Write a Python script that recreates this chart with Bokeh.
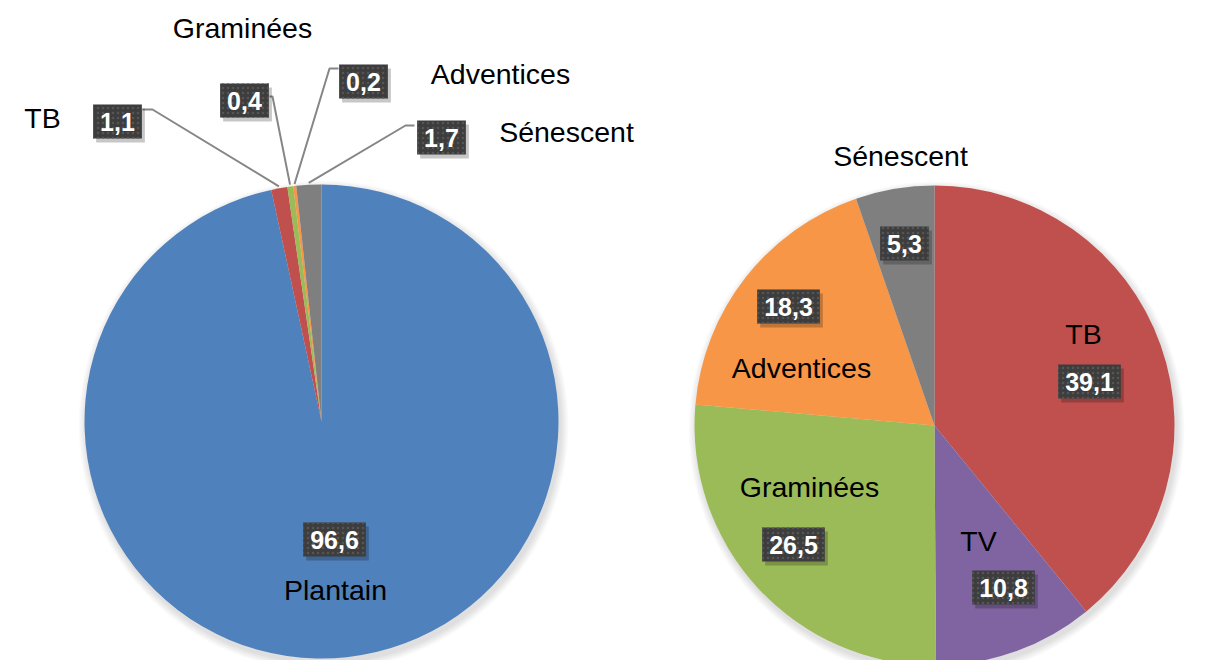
import numpy as np
from bokeh.plotting import figure
from bokeh.models import Range1d
from bokeh.embed import file_html
from bokeh.resources import INLINE
from bokeh.core.properties import value

# ---------------- data ----------------
left_categories = ["Plantain", "TB", "Graminées", "Adventices", "Sénescent"]
left_values = [96.6, 1.1, 0.4, 0.2, 1.7]
right_categories = ["TB", "TV", "Graminées", "Adventices", "Sénescent"]
right_values = [39.1, 10.8, 26.5, 18.3, 5.3]

# ---------------- styles / layout ----------------
left_colors = ["#4F81BD", "#C0504D", "#9BBB59", "#F79646", "#7F7F7F"]
right_colors = ["#C0504D", "#8064A2", "#9BBB59", "#F79646", "#7F7F7F"]
FONT = value("Liberation Sans")

# pie geometry in page pixels (x right, y down)
left_pie = dict(cx=321, cy=421, r=237)
right_pie = dict(cx=934, cy=425, r=240)

# label positions (page pixels)
left_cat_pos = [(335, 589), (42, 117), (242, 27), (500, 73), (566, 131)]
left_val_pos = [(334, 539), (117, 121), (244, 100), (363, 81), (441, 137)]
# leader line anchors (box side point, elbow) for small slices
left_leaders = {1: [(142, 109), (152, 109)],
                2: [(269, 96), (272, 96)],
                3: [(338, 68), (329, 68)],
                4: [(414, 125), (405, 125)]}

right_cat_pos = [(1083, 333), (978, 540), (809, 486), (801, 367), (900, 155)]
right_val_pos = [(1089, 381), (1003, 587), (793, 544), (788, 306), (904, 243)]

W, H = 1210, 660


def Y(y):
    return H - y


p = figure(width=W, height=H, x_range=Range1d(0, W), y_range=Range1d(0, H),
           output_backend="svg", toolbar_location=None, min_border=0,
           x_axis_location=None, y_axis_location=None)
p.grid.visible = False
p.outline_line_color = None
p.background_fill_color = "white"
p.border_fill_color = "white"


def fmt(v):
    return f"{v:.1f}".replace(".", ",")


def draw_pie(geom, values, colors):
    cx, cy, r = geom["cx"], geom["cy"], geom["r"]
    # soft shadow
    for k in range(1, 9):
        p.circle(x=cx + 2, y=Y(cy + 4), radius=r + k, fill_color="black",
                 fill_alpha=0.014, line_color=None)
    fr = np.array(values, dtype=float) / np.sum(values)
    cum = np.concatenate([[0.0], np.cumsum(fr)])
    start = np.pi / 2 - 2 * np.pi * cum[1:]
    end = np.pi / 2 - 2 * np.pi * cum[:-1]
    p.wedge(x=cx, y=Y(cy), radius=r, start_angle=list(start), end_angle=list(end),
            direction="anticlock", fill_color=colors, line_color=None)
    return (start + end) / 2


def draw_labels(cat_pos, cats, val_pos, values):
    p.text(x=[c[0] for c in cat_pos], y=[Y(c[1]) for c in cat_pos], text=cats,
           text_font=FONT, text_font_size="28.5px", text_color="black",
           text_align="center", text_baseline="middle")
    vt = [fmt(v) for v in values]
    xs = [c[0] for c in val_pos]
    ys = [Y(c[1]) for c in val_pos]
    # shadow box
    p.text(x=[x + 3 for x in xs], y=[y - 4 for y in ys], text=vt,
           text_font=FONT, text_font_size="25px", text_font_style="bold",
           text_alpha=0, text_align="center", text_baseline="middle",
           background_fill_color="black", background_fill_alpha=0.22,
           padding=(7, 8))
    p.text(x=xs, y=ys, text=vt,
           text_font=FONT, text_font_size="25px", text_font_style="bold",
           text_color="white", text_align="center", text_baseline="middle",
           background_fill_color="#3D3D3D", padding=(7, 8),
           background_hatch_pattern="dot", background_hatch_color="#555555",
           background_hatch_scale=5, background_hatch_weight=1)


# ---------------- left pie ----------------
lmid = draw_pie(left_pie, left_values, left_colors)
for i, pts in left_leaders.items():
    ex = left_pie["cx"] + (left_pie["r"] + 2) * np.cos(lmid[i])
    ey = Y(left_pie["cy"]) + (left_pie["r"] + 2) * np.sin(lmid[i])
    xs = [pts[0][0], pts[1][0], ex]
    ys = [Y(pts[0][1]), Y(pts[1][1]), ey]
    p.line(x=xs, y=ys, line_color="#868686", line_width=2)
draw_labels(left_cat_pos, left_categories, left_val_pos, left_values)

# ---------------- right pie ----------------
draw_pie(right_pie, right_values, right_colors)
draw_labels(right_cat_pos, right_categories, right_val_pos, right_values)

open("out.html", "w").write(file_html(p, INLINE))
